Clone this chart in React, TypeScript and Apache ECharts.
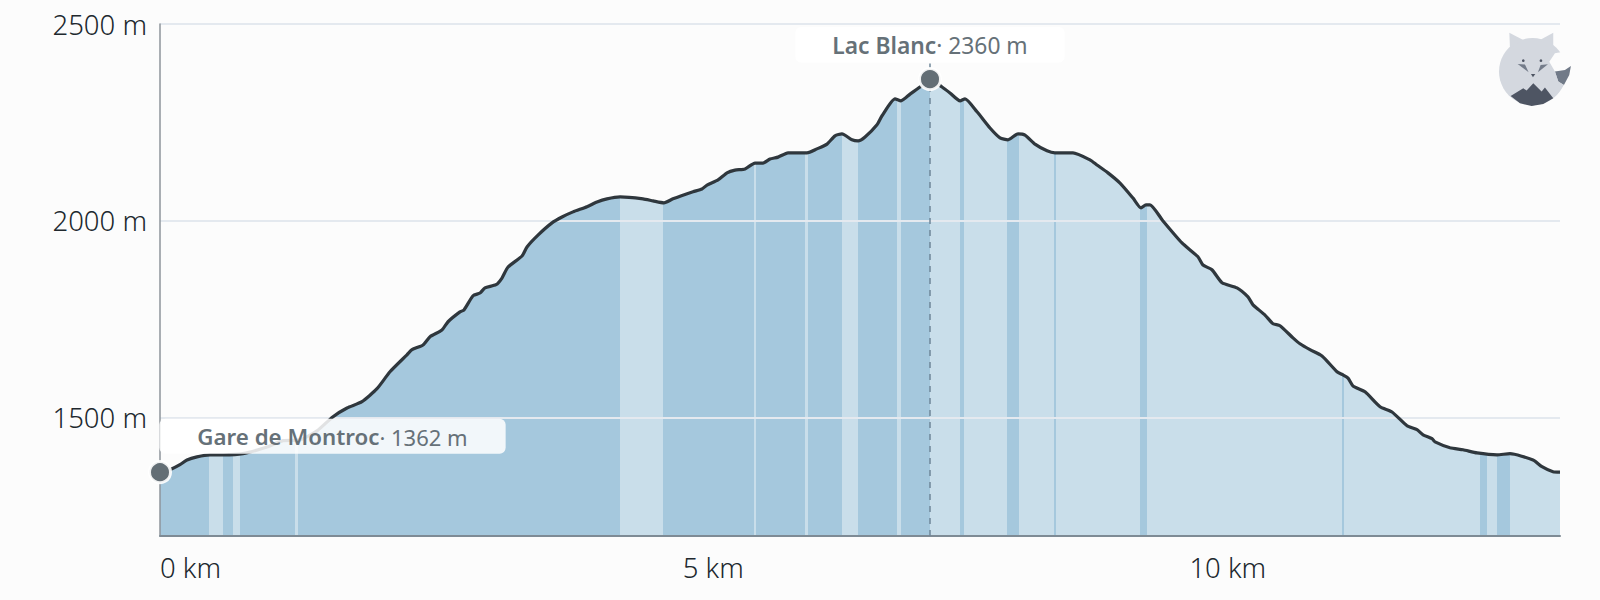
import React, { useEffect, useRef } from "react";
import * as echarts from "echarts";

const distances = [
  0, 0.117, 0.194, 0.262, 0.359, 0.486, 0.612, 0.806, 1.039, 1.195, 1.36, 1.525, 1.681, 1.817, 1.962, 2.108,
  2.234, 2.399, 2.448, 2.555, 2.623, 2.739, 2.798, 2.914, 2.953, 3.041, 3.109, 3.157, 3.264, 3.322, 3.381,
  3.517, 3.565, 3.672, 3.808, 3.905, 4.012, 4.148, 4.245, 4.342, 4.469, 4.692, 4.789, 4.896, 4.983, 5.178,
  5.265, 5.314, 5.421, 5.508, 5.586, 5.683, 5.78, 5.858, 5.926, 6.004, 6.101, 6.285, 6.382, 6.48, 6.557,
  6.625, 6.722, 6.781, 6.849, 6.965, 7.014, 7.14, 7.198, 7.286, 7.383, 7.48, 7.597, 7.674, 7.772, 7.82,
  7.937, 8.063, 8.16, 8.238, 8.335, 8.403, 8.5, 8.617, 8.694, 8.869, 9.034, 9.102, 9.209, 9.326, 9.452,
  9.53, 9.578, 9.617, 9.743, 9.928, 10.083, 10.132, 10.219, 10.317, 10.462, 10.569, 10.618, 10.734, 10.812,
  10.88, 11.006, 11.074, 11.171, 11.288, 11.434, 11.492, 11.541, 11.589, 11.706, 11.852, 11.968, 12.114,
  12.211, 12.27, 12.357, 12.386, 12.532, 12.658, 12.794, 12.988, 13.114, 13.338, 13.425, 13.532, 13.6,
];

const elevations = [
  1362, 1371, 1381, 1393, 1401, 1406, 1406, 1409, 1426, 1442, 1444, 1467, 1503, 1525, 1541, 1574,
  1617, 1660, 1673, 1685, 1706, 1723, 1744, 1769, 1774, 1810, 1817, 1830, 1838, 1855, 1883,
  1911, 1934, 1964, 1995, 2010, 2023, 2036, 2048, 2056, 2061, 2056, 2051, 2046, 2056, 2074,
  2081, 2091, 2104, 2122, 2129, 2132, 2147, 2147, 2157, 2162, 2173, 2173, 2183, 2195, 2216,
  2221, 2206, 2203, 2213, 2244, 2267, 2310, 2305, 2322, 2340, 2360, 2340, 2325, 2305, 2310,
  2277, 2236, 2211, 2206, 2221, 2218, 2195, 2178, 2173, 2173, 2155, 2142, 2122, 2096, 2058,
  2033, 2041, 2041, 2000, 1944, 1909, 1888, 1876, 1843, 1830, 1807, 1787, 1761, 1739,
  1734, 1703, 1688, 1673, 1657, 1617, 1609, 1601, 1581, 1566, 1528, 1515, 1480,
  1470, 1457, 1447, 1439, 1424, 1419, 1411, 1406, 1409, 1393, 1376, 1363, 1362,
];

// stretches of the profile drawn in the pale tint, in km
const paleStarts = [0.479, 0.706, 1.311, 4.469, 5.772, 6.266, 6.623, 7.158, 7.48, 7.814, 8.347, 8.7, 9.588, 11.497, 12.891, 13.114];
const paleEnds = [0.615, 0.777, 1.338, 4.883, 5.786, 6.292, 6.782, 7.196, 7.772, 8.231, 8.685, 9.52, 11.484, 12.823, 12.985, 13.6];

const stopNames = ["Gare de Montroc", "Lac Blanc"];
const stopDistances = [0, 7.48];
const stopElevations = [1362, 2360];

const yTicks = [1500, 2000, 2500];
const xTicks = [0, 5, 10];

const DARK = "#a5c8dd";
const PALE = "#c9deea";
const BG = "#fcfcfc";

const buildPieces = () => {
  const pieces: any[] = [];
  let cursor = 0;
  paleStarts.forEach((start, i) => {
    if (start > cursor) pieces.push({ gte: cursor, lt: start, color: DARK });
    pieces.push({ gte: start, lt: paleEnds[i], color: PALE });
    cursor = paleEnds[i];
  });
  return pieces;
};

// fox logo, points measured on a 3x crop
const logo = {
  type: "group",
  x: 1490,
  y: 20,
  scaleX: 1 / 3,
  scaleY: 1 / 3,
  silent: true,
  children: [
    { type: "circle", shape: { cx: 128, cy: 155, r: 101 }, style: { fill: "#d4d8df" } },
    { type: "polygon", shape: { points: [[58, 38], [60, 85], [100, 60]] }, style: { fill: "#d4d8df" } },
    { type: "polygon", shape: { points: [[190, 38], [150, 60], [190, 95]] }, style: { fill: "#d4d8df" } },
    {
      type: "polygon",
      shape: { points: [[178, 125], [195, 100], [250, 90], [250, 215], [222, 195], [205, 185], [195, 155]] },
      style: { fill: BG },
    },
    {
      type: "polygon",
      shape: { points: [[195, 155], [225, 150], [243, 138], [238, 165], [222, 195], [205, 185]] },
      style: { fill: "#717a88" },
    },
    {
      type: "polygon",
      shape: { points: [[178, 155], [195, 155], [205, 185], [222, 195], [200, 225], [180, 200]] },
      style: { fill: "#d4d8df" },
    },
    { type: "circle", shape: { cx: 100, cy: 122, r: 4 }, style: { fill: "#4e5563" } },
    { type: "circle", shape: { cx: 153, cy: 122, r: 4 }, style: { fill: "#4e5563" } },
    { type: "polygon", shape: { points: [[83, 132], [105, 134], [116, 157]] }, style: { fill: "#737b89" } },
    { type: "polygon", shape: { points: [[174, 133], [152, 135], [144, 157]] }, style: { fill: "#737b89" } },
    { type: "polygon", shape: { points: [[123, 162], [136, 162], [129, 172]] }, style: { fill: "#4e5563" } },
    {
      type: "polygon",
      shape: {
        points: [
          [62, 228], [100, 205], [110, 212], [130, 190], [155, 215], [165, 203], [190, 235],
          [160, 252], [125, 258], [90, 250],
        ],
      },
      style: { fill: "#4e5563" },
    },
  ],
};

const App: React.FC = () => {
  const chartRef = useRef<HTMLDivElement | null>(null);

  useEffect(() => {
    if (chartRef.current) {
      const myChart = echarts.init(chartRef.current, null, { renderer: "svg" });
      const profile = distances.map((d, i) => [d, elevations[i]]);
      const font = "Noto Sans";
      const stopRich = (nameSize: number, valSize: number) => ({
        name: { fontSize: nameSize, fontFamily: font, fontWeight: 600, color: "#667178" },
        val: { fontSize: valSize, fontFamily: font, fontWeight: 400, color: "#667178" },
      });

      const option = {
        animation: false,
        backgroundColor: BG,
        textStyle: { fontFamily: font },
        grid: { left: 160, right: 40, top: 24, bottom: 64 },
        xAxis: {
          type: "value",
          min: 0,
          max: 13.6,
          z: 3,
          axisLine: { show: true, onZero: false, lineStyle: { color: "#7e8b95", width: 2 } },
          axisTick: { show: false },
          splitLine: { show: false },
          axisLabel: {
            customValues: xTicks,
            align: "left",
            margin: 17,
            formatter: (v: number) => (v === 5 ? `{mid|${v} km}` : `{std|${v} km}`),
            rich: {
              std: { fontSize: 27.5, fontWeight: 300, fontFamily: font, color: "#20282e" },
              mid: { fontSize: 27.5, fontWeight: 300, fontFamily: font, color: "#20282e", padding: [0, 0, 0, 8] },
            },
          },
        },
        yAxis: {
          type: "value",
          min: 1200,
          max: 2500,
          z: 3,
          axisLine: { show: true, lineStyle: { color: "#8e959b", width: 1.5 } },
          axisTick: { show: false, customValues: yTicks },
          splitLine: { show: true, lineStyle: { color: "#e4e9ef", width: 2 } },
          axisLabel: {
            customValues: yTicks,
            margin: 13,
            fontSize: 27.5,
            fontWeight: 300,
            color: "#20282e",
            fontFamily: font,
            padding: [0, 0, 2, 0],
            formatter: (v: number) => `${v} m`,
          },
        },
        visualMap: {
          type: "piecewise",
          show: false,
          dimension: 0,
          seriesIndex: 0,
          pieces: buildPieces(),
        },
        series: [
          {
            name: "fill",
            type: "line",
            z: 2,
            smooth: 0.2,
            symbol: "none",
            lineStyle: { width: 0 },
            areaStyle: { opacity: 1 },
            data: profile,
          },
          {
            name: "profile",
            type: "line",
            z: 4,
            smooth: 0.2,
            symbol: "none",
            lineStyle: { color: "#2f373d", width: 3.2 },
            data: profile,
            markLine: {
              silent: true,
              symbol: "none",
              label: { show: false },
              lineStyle: { color: "#6f8799", type: [6, 6], width: 1.5 },
              data: [[{ coord: [stopDistances[1], 1200] }, { coord: [stopDistances[1], 2400] }]],
            },
          },
          {
            name: "stops",
            type: "scatter",
            z: 6,
            clip: false,
            symbolSize: 21,
            itemStyle: { opacity: 1, color: "#636e75", borderColor: "rgba(255,255,255,0.9)", borderWidth: 3 },
            label: {
              show: true,
              position: "inside",
              backgroundColor: "rgba(255,255,255,0.86)",
              borderRadius: 6,
              formatter: (p: any) => `{name|${stopNames[p.dataIndex]}}{val|· ${stopElevations[p.dataIndex]} m}`,
            },
            data: [
              {
                value: [stopDistances[0], stopElevations[0]],
                label: { offset: [172.5, -36], padding: [7, 38, 6, 38], rich: stopRich(22.3, 22) },
              },
              {
                value: [stopDistances[1], stopElevations[1]],
                label: { offset: [0, -34.5], padding: [7, 37, 6, 37], rich: stopRich(22.8, 22.8) },
              },
            ],
          },
        ],
        graphic: [logo],
      };

      myChart.setOption(option);

      return () => {
        myChart.dispose();
      };
    }
  }, []);

  return <div ref={chartRef} style={{ position: "absolute", left: 0, top: 0, width: "1600px", height: "600px" }} />;
};

export default App;
